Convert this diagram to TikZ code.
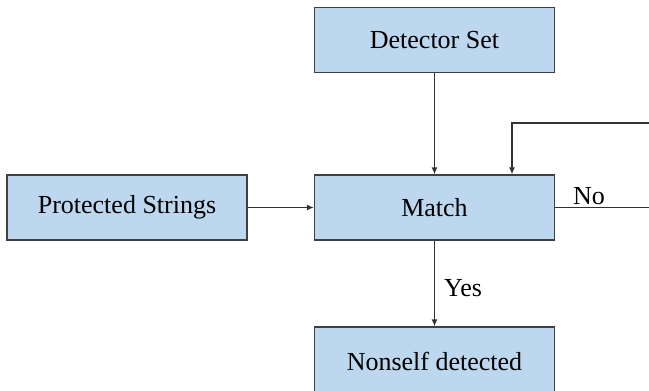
\documentclass[tikz,border=0pt]{standalone}
\usepackage{fontspec}
\setmainfont{Liberation Serif}
\usetikzlibrary{arrows.meta}
\definecolor{boxfill}{RGB}{189,215,238}
\definecolor{boxline}{RGB}{64,64,64}
\definecolor{conn}{RGB}{50,50,50}
\begin{document}
\begin{tikzpicture}[x=1pt,y=-1pt,
  stepbox/.style={draw=boxline,fill=boxfill,line width=1.3pt,minimum width=240pt,minimum height=65pt,inner sep=0pt,font=\fontsize{26}{30}\selectfont},
  conline/.style={draw=conn,line width=1.3pt},
  arr/.style={conline,-{Latex[length=7pt,width=6pt]}},
  lbl/.style={font=\fontsize{26}{30}\selectfont,inner sep=0pt}]
\useasboundingbox (0,0) rectangle (649,391);
\clip (0,0) rectangle (649,391);
\node[stepbox] (det) at (434.5,40) {Detector Set};
\node[stepbox] (match) at (434.5,207.5) {Match};
\node[stepbox] (prot) at (127,207.5) {Protected Strings};
\node[stepbox,minimum height=68pt] (non) at (434.5,361) {Nonself detected};
\coordinate (noend) at (652,207.5);
\coordinate (loopin) at (652,123);
\coordinate (loopc) at (512,123);
\draw[arr] (det.south) -- (match.north);
\draw[arr] (prot.east) -- (match.west);
\draw[arr] (match.south) -- node[lbl,right=9pt,pos=0.55]{Yes} (non.north);
\draw[conline] (match.east) -- (noend);
\node[lbl] (no) at (589,196) {No};
\draw[arr] (loopin) -- (loopc) -- (loopc |- match.north);
\end{tikzpicture}
\end{document}
